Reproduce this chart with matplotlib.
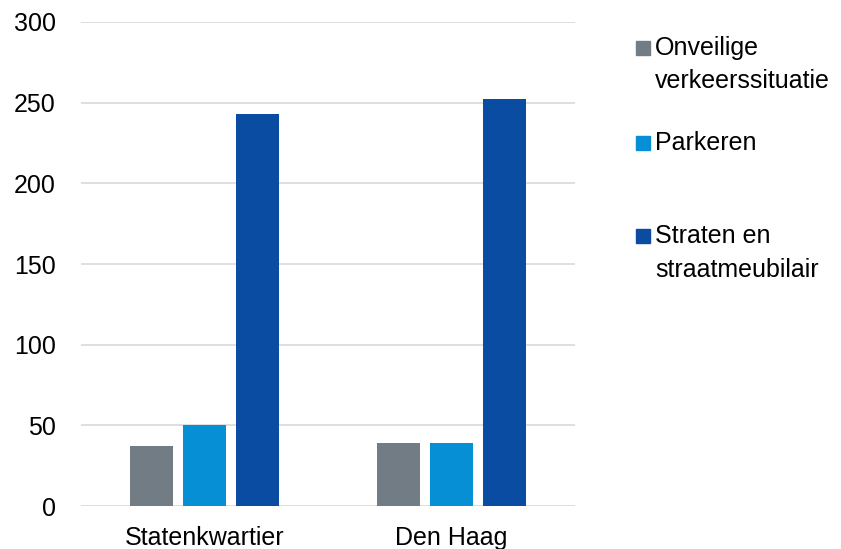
import numpy as np
import matplotlib.pyplot as plt
from matplotlib.patches import Rectangle

categories = ["Statenkwartier", "Den Haag"]
series = ["Onveilige\nverkeerssituatie", "Parkeren", "Straten en\nstraatmeubilair"]
values = [
    [37, 39],    # Onveilige verkeerssituatie
    [50, 39],    # Parkeren
    [243, 252],  # Straten en straatmeubilair
]
colors = ["#717C84", "#068FD4", "#0A4CA1"]
yticks = [0, 50, 100, 150, 200, 250, 300]


def main():
    plt.rcParams.update({"font.family": "Liberation Sans", "font.size": 18})
    W, H = 841, 549
    fig = plt.figure(figsize=(W / 100, H / 100), dpi=100)
    ax = fig.add_axes([0.096, 0.078, 0.588, 0.882])

    x = np.arange(len(categories))
    width = 0.175
    step = 0.215
    for i, (name, vals) in enumerate(zip(series, values)):
        ax.bar(x + (i - 1) * step, vals, width, color=colors[i], label=name, zorder=3)

    ax.set_xlim(-0.5, 1.5)
    ax.set_ylim(0, 300)
    ax.set_yticks(yticks)
    ax.set_xticks(x)
    ax.set_xticklabels(categories)
    ax.grid(axis="y", color="#D9D9D9", linewidth=1.2, zorder=0)
    ax.tick_params(length=0, colors="#000000")
    ax.tick_params(axis="y", pad=18)
    ax.tick_params(axis="x", pad=14)
    for s in ax.spines.values():
        s.set_visible(False)

    # legend drawn by hand so entries sit at the same spacing as the original
    legend_y = [48, 143, 236]   # pixel centre of first line of each entry
    for name, col, yy in zip(series, colors, legend_y):
        fig.add_artist(Rectangle((636 / W, 1 - (yy + 7) / H), 14 / W, 14 / H,
                                 transform=fig.transFigure, color=col))
        fig.text(655 / W, 1 - (yy - 12) / H, name, ha="left", va="top",
                 linespacing=1.5)

    fig.savefig("out.png", dpi=100)
    plt.close(fig)


if __name__ == "__main__":
    main()
